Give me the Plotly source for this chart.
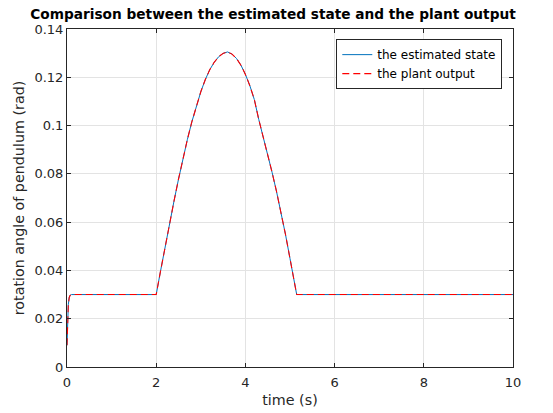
import plotly.graph_objects as go

# Time samples (s) and pendulum angle (rad)
time_s = [0.0, 0.01, 0.02, 0.03, 0.05, 0.07, 0.1,
          2.0, 2.1, 2.2, 2.3, 2.4, 2.5, 2.6, 2.7, 2.8, 2.9,
          3.0, 3.1, 3.2, 3.3, 3.4, 3.5, 3.6, 3.7, 3.8, 3.9,
          4.0, 4.1, 4.2, 4.3, 4.4, 4.5, 4.6, 4.7, 4.8, 4.9,
          5.0, 5.1, 5.15, 10.0]

estimated_state = [0.009, 0.016, 0.022, 0.026, 0.0288, 0.0297, 0.030,
                   0.030, 0.040, 0.050, 0.0595, 0.0688, 0.0778, 0.0863, 0.0943, 0.1016, 0.1082,
                   0.1140, 0.1190, 0.1231, 0.1262, 0.1285, 0.1299, 0.1305, 0.1296, 0.1278, 0.1250,
                   0.1212, 0.1165, 0.1108, 0.1025, 0.0955, 0.0880, 0.0805, 0.0725, 0.0640, 0.0548,
                   0.0449, 0.0350, 0.030, 0.030]

plant_output = [0.009, 0.016, 0.022, 0.026, 0.0288, 0.0297, 0.030,
                0.030, 0.040, 0.050, 0.0595, 0.0688, 0.0778, 0.0863, 0.0943, 0.1016, 0.1082,
                0.1140, 0.1190, 0.1231, 0.1262, 0.1285, 0.1299, 0.1305, 0.1296, 0.1278, 0.1250,
                0.1212, 0.1165, 0.1108, 0.1025, 0.0955, 0.0880, 0.0805, 0.0725, 0.0640, 0.0548,
                0.0449, 0.0350, 0.030, 0.030]

x_ticks = [0, 2, 4, 6, 8, 10]
y_ticks = [0, 0.02, 0.04, 0.06, 0.08, 0.1, 0.12, 0.14]
y_tick_text = ["0", "0.02", "0.04", "0.06", "0.08", "0.1", "0.12", "0.14"]

FONT = "DejaVu Sans"
AX = "#262626"

fig = go.Figure()
fig.add_trace(go.Scatter(x=time_s, y=estimated_state, mode="lines",
                         name="the estimated state",
                         line=dict(color="#0072BD", width=1)))
fig.add_trace(go.Scatter(x=time_s, y=plant_output, mode="lines",
                         name="the plant output",
                         line=dict(color="#FF0000", width=1.1, dash="7px,4px")))

axis_common = dict(
    showgrid=True, gridcolor="#e3e3e3", gridwidth=1,
    showline=True, linecolor=AX, linewidth=1, mirror="ticks",
    ticks="inside", ticklen=4, tickcolor=AX, tickwidth=1,
    tickfont=dict(family=FONT, size=13, color=AX),
    zeroline=False, automargin=False,
)

fig.update_layout(
    width=553, height=413,
    margin=dict(l=67, r=40, t=29, b=46),
    paper_bgcolor="white", plot_bgcolor="white",
    font=dict(family=FONT, color=AX),
    title=dict(text="<b>Comparison between the estimated state and the plant output</b>",
               font=dict(family=FONT, size=13.7, color="black"),
               xref="container", x=273 / 553, xanchor="center",
               yref="container", y=1 - 14 / 413, yanchor="middle"),
    xaxis=dict(range=[0, 10], tickvals=x_ticks, ticklabelstandoff=3,
               title=dict(text="time (s)", font=dict(family=FONT, size=14.3, color=AX),
                          standoff=6),
               **axis_common),
    yaxis=dict(range=[0, 0.14], tickvals=y_ticks, ticktext=y_tick_text,
               title=dict(text="rotation angle of pendulum (rad)",
                          font=dict(family=FONT, size=14.3, color=AX), standoff=6),
               **axis_common),
    legend=dict(x=0.976, y=0.97, xanchor="right", yanchor="top",
                bgcolor="white", bordercolor=AX, borderwidth=1,
                font=dict(family=FONT, size=12, color="black"),
                tracegroupgap=0, itemwidth=30),
    showlegend=True,
)

fig.write_html("out.html")
